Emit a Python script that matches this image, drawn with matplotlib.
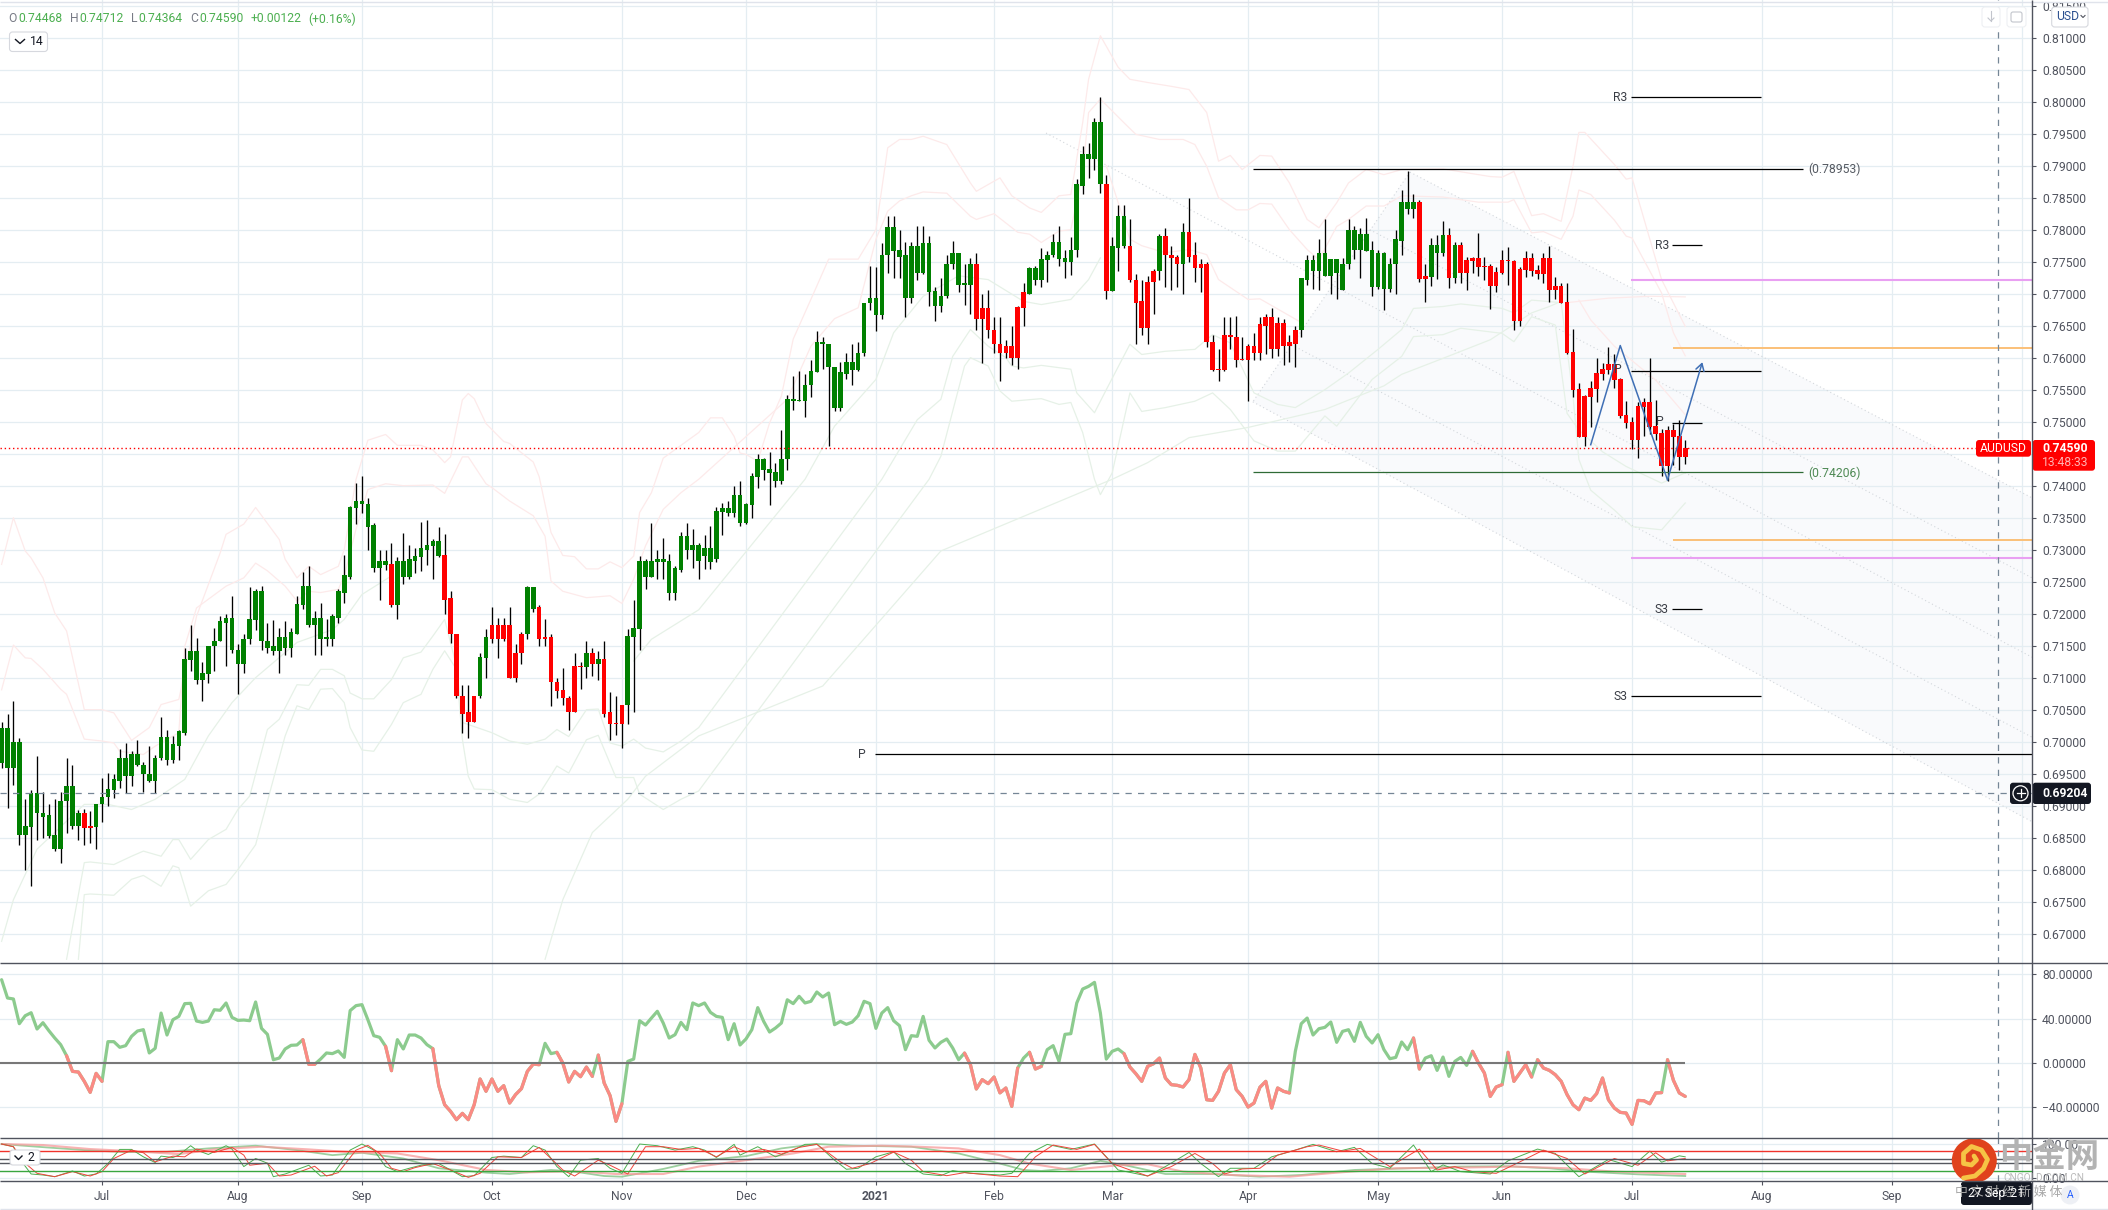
import numpy as np
import matplotlib
matplotlib.use("Agg")
import matplotlib.pyplot as plt
from matplotlib.patches import FancyBboxPatch, Ellipse, Circle

plt.rcParams['font.family'] = ['Roboto', 'Noto Sans CJK SC', 'DejaVu Sans']

W, H = 2108, 1210

# candle values, price x 10000
body_top = [
    7021,7021,6999,6999,6868,6920,6920,6889,6885,6854,
    6908,6930,6930,6888,6888,6868,6903,6914,6926,6941,
    6974,6974,6980,6980,6964,6950,6975,7008,7008,6996,
    7016,7129,7141,7141,7107,7150,7158,7188,7194,7194,
    7144,7161,7191,7236,7236,7158,7149,7163,7163,7171,
    7215,7243,7243,7193,7193,7163,7196,7235,7260,7366,
    7376,7376,7372,7338,7282,7282,7277,7283,7283,7285,
    7290,7302,7307,7313,7313,7291,7224,7169,7072,7046,
    7072,7132,7163,7183,7183,7182,7182,7139,7169,7241,
    7241,7210,7163,7163,7094,7080,7069,7118,7118,7139,
    7139,7129,7129,7046,7029,7058,7165,7177,7283,7283,
    7282,7286,7286,7282,7271,7321,7321,7307,7307,7303,
    7303,7360,7365,7365,7385,7385,7371,7415,7442,7442,
    7426,7421,7442,7536,7536,7533,7558,7579,7625,7625,
    7622,7586,7577,7593,7593,7608,7686,7693,7693,7761,
    7804,7804,7768,7760,7774,7774,7779,7779,7704,7697,
    7747,7764,7764,7716,7747,7747,7677,7677,7644,7622,
    7619,7619,7679,7702,7740,7740,7754,7761,7780,7780,
    7755,7769,7871,7918,7918,7969,7969,7872,7774,7821,
    7821,7775,7722,7688,7719,7736,7790,7790,7761,7757,
    7797,7797,7760,7747,7747,7625,7582,7636,7636,7633,
    7597,7618,7618,7652,7664,7664,7654,7654,7624,7644,
    7724,7752,7752,7763,7763,7754,7754,7747,7800,7800,
    7794,7793,7768,7763,7763,7747,7785,7844,7844,7844,
    7844,7728,7776,7776,7791,7791,7776,7776,7753,7755,
    7755,7744,7744,7734,7753,7753,7751,7739,7755,7755,
    7737,7755,7755,7712,7712,7687,7609,7551,7540,7553,
    7576,7583,7590,7590,7567,7511,7500,7525,7530,7530,
    7494,7483,7487,7487,7478,7459]
body_bot = [
    6967,6959,6959,6854,6854,6866,6888,6883,6852,6833,
    6833,6907,6868,6868,6865,6865,6866,6902,6914,6925,
    6939,6946,6946,6963,6949,6938,6938,6974,6971,6971,
    6994,7014,7127,7097,7097,7105,7149,7157,7186,7143,
    7122,7122,7160,7190,7157,7147,7141,7141,7147,7147,
    7169,7213,7182,7182,7160,7160,7161,7194,7233,7258,
    7365,7371,7336,7272,7272,7276,7213,7213,7257,7257,
    7283,7288,7300,7305,7290,7222,7168,7071,7044,7030,
    7030,7071,7130,7161,7161,7161,7100,7100,7138,7168,
    7208,7160,7160,7093,7079,7068,7047,7047,7116,7116,
    7122,7122,7044,7027,7027,7027,7057,7163,7176,7258,
    7258,7280,7280,7232,7232,7269,7299,7299,7282,7290,
    7280,7285,7359,7357,7357,7342,7342,7370,7414,7425,
    7420,7407,7407,7441,7532,7532,7532,7557,7577,7621,
    7585,7521,7521,7575,7580,7580,7607,7685,7666,7666,
    7760,7766,7758,7694,7694,7733,7733,7702,7680,7680,
    7696,7746,7714,7713,7713,7661,7661,7643,7621,7607,
    7607,7599,7599,7677,7700,7721,7721,7752,7760,7754,
    7749,7749,7768,7869,7911,7911,7871,7704,7704,7772,
    7774,7721,7686,7647,7647,7718,7735,7760,7755,7746,
    7746,7758,7740,7740,7624,7580,7580,7580,7632,7596,
    7596,7596,7608,7608,7650,7613,7613,7618,7618,7622,
    7643,7722,7735,7735,7727,7727,7732,7705,7746,7768,
    7768,7766,7711,7711,7707,7707,7746,7782,7833,7833,
    7723,7723,7726,7764,7764,7725,7725,7733,7733,7751,
    7742,7742,7712,7712,7733,7751,7658,7658,7737,7736,
    7730,7730,7705,7705,7686,7608,7550,7476,7476,7539,
    7551,7575,7581,7565,7509,7498,7472,7472,7523,7492,
    7481,7430,7430,7476,7445,7445]
wick_top = [
    7030,7043,7064,7005,6911,6925,6977,6922,6902,6911,
    6922,6975,6963,6893,6895,6891,6903,6944,6951,6949,
    6988,6998,6985,7002,6969,6994,6979,7038,7018,7009,
    7018,7147,7183,7162,7125,7150,7177,7197,7199,7227,
    7152,7168,7241,7239,7244,7186,7190,7177,7188,7177,
    7228,7265,7275,7204,7216,7191,7199,7238,7291,7369,
    7404,7415,7381,7341,7299,7299,7310,7288,7326,7307,
    7302,7343,7346,7316,7335,7324,7236,7169,7088,7088,
    7072,7138,7176,7210,7193,7194,7210,7152,7171,7244,
    7241,7213,7191,7169,7099,7115,7072,7138,7125,7158,
    7147,7141,7158,7077,7072,7058,7176,7222,7290,7286,
    7341,7300,7319,7294,7274,7327,7341,7332,7311,7323,
    7337,7366,7373,7376,7399,7407,7373,7420,7450,7443,
    7453,7435,7487,7541,7572,7579,7575,7597,7641,7632,
    7622,7586,7593,7608,7622,7625,7686,7743,7741,7779,
    7821,7821,7799,7780,7780,7805,7805,7790,7711,7725,
    7761,7783,7764,7747,7755,7764,7700,7705,7663,7663,
    7627,7649,7680,7716,7741,7743,7772,7766,7793,7805,
    7769,7788,7879,7930,7935,7974,8008,7885,7788,7838,
    7839,7816,7730,7722,7727,7738,7794,7802,7775,7760,
    7811,7850,7780,7754,7750,7636,7614,7663,7663,7665,
    7632,7621,7638,7663,7669,7678,7663,7660,7636,7649,
    7724,7761,7761,7785,7816,7754,7754,7755,7816,7805,
    7802,7819,7783,7768,7765,7755,7800,7862,7891,7856,
    7847,7747,7787,7791,7814,7803,7781,7781,7758,7758,
    7795,7758,7747,7741,7769,7773,7753,7741,7766,7764,
    7745,7764,7775,7726,7716,7716,7645,7561,7542,7564,
    7600,7592,7617,7606,7569,7533,7508,7531,7537,7600,
    7534,7489,7494,7497,7503,7471]
wick_bot = [
    6959,6897,6932,6838,6799,6775,6847,6850,6850,6829,
    6810,6857,6863,6846,6839,6841,6832,6875,6900,6912,
    6928,6920,6931,6962,6922,6937,6920,6971,6964,6967,
    6972,7011,7111,7090,7063,7091,7111,7157,7119,7138,
    7075,7107,7152,7175,7144,7139,7136,7108,7136,7132,
    7168,7208,7179,7135,7136,7149,7149,7186,7216,7254,
    7340,7358,7300,7265,7221,7269,7210,7191,7247,7254,
    7263,7266,7276,7254,7288,7199,7154,7068,7014,7005,
    7030,7069,7099,7154,7130,7157,7099,7094,7122,7160,
    7202,7149,7150,7055,7069,7057,7019,7046,7083,7100,
    7102,7096,7038,7002,7010,6990,7027,7047,7144,7238,
    7258,7254,7254,7222,7221,7265,7285,7271,7254,7270,
    7270,7280,7323,7353,7351,7337,7340,7350,7396,7409,
    7370,7398,7403,7425,7519,7532,7507,7538,7577,7582,
    7462,7516,7516,7567,7557,7579,7602,7675,7641,7661,
    7733,7725,7725,7664,7686,7721,7730,7680,7658,7672,
    7694,7739,7702,7682,7668,7643,7591,7630,7607,7563,
    7600,7588,7582,7650,7700,7713,7711,7718,7758,7744,
    7724,7729,7757,7855,7880,7894,7858,7691,7704,7735,
    7772,7719,7621,7635,7621,7668,7722,7711,7705,7710,
    7699,7749,7718,7703,7616,7579,7563,7579,7614,7585,
    7596,7532,7596,7597,7605,7600,7602,7588,7594,7585,
    7633,7713,7707,7705,7727,7699,7691,7705,7739,7754,
    7724,7766,7696,7707,7674,7703,7700,7760,7825,7819,
    7719,7687,7712,7723,7759,7709,7716,7717,7705,7733,
    7728,7722,7676,7703,7730,7714,7644,7650,7726,7728,
    7723,7716,7687,7692,7686,7606,7539,7476,7462,7492,
    7531,7565,7575,7553,7506,7490,7458,7444,7478,7480,
    7472,7415,7408,7433,7425,7434]
# bars painted red, first and last index of each run
red_runs = [(14,15),(66,66),(75,80),(83,88),(91,98),(100,100),(102,105),(165,173),(187,187),
            (191,195),(197,199),(201,219),(240,241),(245,245),(247,285)]

# oscillator in the middle pane, one value per bar
osc = [
    75.1,58.6,57.7,35.4,42.6,45.3,30.6,36.3,29.1,22.5,16.5,6.5,-7.6,-8.2,-16.6,-26.5,-9.4,-16.6,
    19.2,19.2,14.1,15.6,24,28.8,30,9,13.2,45,25.2,39,42,53.5,53.8,37.8,36.6,37.8,48,47.5,54.1,41.1,
    38.4,38.7,38.1,55,31.2,25.8,2.9,4.4,12.6,15.9,16.2,21,-1.3,-1.3,3.5,9,8.4,10.8,5,47.2,51.7,52.6,
    39,24.6,23.1,15,-7,21,12.6,25.2,25.2,22.5,16.5,12.9,-20.5,-37.7,-43.7,-51.2,-45.5,-51.2,-37.7,
    -14.5,-25.6,-14.5,-25.6,-20.5,-36.2,-28.6,-23.2,-7.6,-1,-1.6,17.7,8.4,9.6,-0.1,-17.2,-7.6,-12.4,
    -3.7,-12.1,7.1,-18.1,-29.5,-52.7,-36.8,1.4,3.5,38.1,34.2,40.5,46.6,36,22.5,25.5,36.6,30,54.1,51.7,
    54.1,45.6,42,41.1,21,35.4,16.2,21.6,30,49.9,37.5,27.9,31.5,36,57,53.5,60.1,54.1,55.6,64,59.5,63.1,
    34.5,37.5,34.8,36.9,42.6,55.6,53.5,31.2,45,49.9,38.1,33.6,12,24.6,24,42,20.4,13.5,18.6,21.6,13.5,
    2.9,8.9,-1.6,-23.5,-15.1,-18.7,-12.7,-27,-22.6,-39.2,-4.6,4.4,9.6,-5.5,-3.1,12,15.6,1.4,25.8,26.4,
    54.1,66.7,69.1,72.7,45,3.5,10.5,12.6,8.4,-3.7,-9.7,-16.6,-3.1,-0.7,4.4,-13.6,-19.6,-20.2,-21.7,
    -15.1,7.7,-4.6,-33.2,-33.8,-25.6,-9.1,-1.6,-24.1,-30.2,-39.8,-36.2,-22,-16.6,-40.7,-22.6,-25.6,
    -27.1,10.5,35.4,40.5,25.2,30.9,32.1,36.9,18.6,28.5,30,19.5,36.6,24,18,25.5,12,3.8,5,18.9,12,22.5,
    -5.5,4.4,6.5,-6.7,5.3,-12.1,1.4,5,-2.2,10.5,-0.1,-9.1,-30.2,-21.7,-19.6,9.6,-16.6,-9.1,-1.6,-12.7,
    2.9,-4.6,-6.7,-10.6,-16.6,-28.6,-37.7,-42.2,-31.7,-33.8,-27.7,-13.6,-33.2,-40.7,-44.6,-45.2,-55.4,
    -33.8,-34.1,-36.8,-27.1,-26.8,2.9,-15.7,-27.1,-30.2]
osc_red_runs = [(11,17),(51,53),(65,66),(73,91),(94,100),(101,105),(163,172),(174,176),(190,218),
                (239,240),(249,254),(255,259),(260,281),(282,285)]

# stochastic pair in the bottom pane
fast_k_x = [0,2,3,5,7,9,12,14,16,18,20,22,24,26,27,29,30,32,33,35,38,39,41,43,45,46,48,52,54,56,59,61,63,65,67,69,71,74,76,78,80,83,85,88,90,92,94,96,98,101,103,105,108,111,114,117,119,121,124,125,128,131,134,136,138,141,143,145,148,151,153,156,159,161,164,169,171,174,177,181,185,187,189,194,197,201,203,206,208,212,215,219,222,226,229,232,235,239,242,244,247,252,255,260,263,267,272,276,279,281,284,285]
fast_k_y = [100,92,57,11,8,3,20,5,11,42,84,84,62,45,64,60,67,95,82,69,95,85,33,57,43,3,11,37,5,8,82,100,82,33,18,28,37,42,23,3,6,60,64,60,95,82,33,3,52,57,28,13,100,95,82,92,82,60,99,67,92,62,82,99,100,52,25,28,62,77,42,11,6,21,13,8,13,72,99,84,100,62,23,5,33,75,42,3,28,28,62,82,99,77,90,42,28,97,18,38,18,11,50,85,72,3,54,33,79,46,65,62]
fast_d_x = [0,2,4,6,9,12,15,17,19,22,24,26,29,31,33,36,39,41,42,45,47,49,53,55,57,60,62,64,66,68,70,73,76,79,81,84,88,91,93,95,97,101,103,106,109,112,115,118,121,124,126,129,132,135,138,142,144,147,151,154,156,160,163,169,172,175,178,182,185,188,191,194,198,202,205,207,210,213,216,221,223,227,230,235,240,243,246,249,253,257,261,265,268,273,277,280,282,285]
fast_d_y = [100,92,43,13,3,18,5,18,57,82,74,47,64,62,85,75,90,67,37,43,5,8,34,5,15,82,96,72,28,18,30,42,23,1,13,62,60,90,57,23,5,52,37,11,92,92,84,87,62,92,77,84,70,90,99,47,28,42,76,52,18,6,15,5,3,62,97,84,99,42,23,5,33,72,42,11,26,28,67,92,97,79,87,33,85,23,33,18,13,47,82,57,11,57,37,74,50,57]
slow_k_x = [0,6,14,21,28,35,43,50,56,61,68,74,82,86,93,97,102,105,112,118,126,132,138,144,154,162,169,173,176,181,186,191,197,205,213,220,229,238,247,255,262,268,277,285]
slow_k_y = [100,92,82,76,77,87,95,82,67,74,57,28,15,11,23,18,5,3,26,50,64,87,100,95,92,72,42,23,20,28,50,34,11,11,3,8,23,28,33,34,28,18,10,5]
slow_d_x = [0,7,15,22,30,36,44,52,59,67,74,82,89,97,104,112,118,126,134,140,149,155,162,169,174,181,189,194,200,208,218,226,236,247,256,265,273,285]
slow_d_y = [100,97,85,79,70,84,92,84,76,72,52,23,16,19,11,11,33,52,72,92,95,92,87,67,42,23,37,40,18,8,3,15,28,30,33,28,18,11]

# pale bands on the price pane
red_a_x = [0,2,4,5,7,9,11,14,17,19,22,25,27,30,33,37,38,41,43,47,48,50,52,54,57,58,60,62,65,67,71,73,75,76,78,79,80,82,85,86,90,91,93,95,97,99,101,103,105,107,108,110,112,115,118,120,122,124,125,126,128,130,132,134,138,140,145,148,150,152,154,156,160,164,165,169,171,174,176,179,181,183,184,186,189,191,194,198,201,204,206,208,210,213,215,218,221,223,226,228,231,234,237,244,252,254,256,259,261,264,266,267,268,271,273,275,276,277,281,285]
red_a_y = [7277,7350,7298,7287,7256,7201,7173,7050,7050,7045,7002,7022,7058,7066,7196,7295,7324,7340,7366,7316,7285,7256,7274,7261,7274,7300,7410,7471,7480,7463,7463,7456,7436,7445,7534,7544,7536,7497,7469,7466,7437,7414,7327,7291,7289,7270,7270,7281,7272,7290,7358,7389,7443,7463,7483,7506,7506,7477,7451,7449,7438,7498,7540,7629,7712,7754,7754,7800,7928,7941,7941,7946,7933,7873,7860,7881,7853,7834,7827,7853,7855,7967,8035,8103,8054,8035,8030,8024,8019,7983,7907,7916,7894,7916,7915,7873,7816,7803,7842,7873,7894,7886,7894,7895,7883,7882,7891,7822,7825,7813,7899,7952,7952,7922,7902,7879,7881,7849,7722,7649]
red_b_x = [0,2,4,5,7,10,11,14,17,19,20,24,26,30,31,33,38,41,43,45,48,50,52,54,57,58,60,62,65,68,73,75,78,79,82,83,86,90,92,93,95,99,103,105,107,109,112,115,118,133,137,141,145,148,150,152,154,156,160,164,165,168,172,174,176,179,181,183,184,186,190,192,196,200,202,204,206,209,211,213,215,218,221,223,226,228,231,234,237,244,250,255,256,259,261,264,266,267,269,273,275,276,281,283,285]
red_b_y = [7081,7151,7131,7130,7113,7082,7074,7004,7001,6998,6985,6980,6993,7014,7149,7209,7243,7256,7279,7267,7243,7220,7235,7233,7238,7259,7332,7394,7403,7400,7401,7388,7445,7445,7403,7397,7376,7353,7321,7251,7235,7225,7228,7216,7254,7306,7363,7389,7410,7535,7618,7661,7678,7785,7829,7845,7853,7859,7857,7821,7816,7825,7796,7793,7780,7798,7800,7889,7983,8004,7967,7949,7941,7941,7933,7899,7850,7831,7831,7841,7840,7800,7769,7753,7805,7816,7837,7837,7853,7851,7843,7843,7847,7795,7797,7785,7821,7862,7855,7815,7790,7787,7701,7639,7603]
red_c_x = [187,191,193,197,201,204,206,211,213,220]
red_c_y = [7900,7785,7775,7764,7769,7761,7722,7691,7692,7655]
red_d_x = [265,272,279,285]
red_d_y = [7686,7693,7696,7695]
red_e_x = [267,269,273,280,285]
red_e_y = [7690,7659,7618,7565,7511]
green_c_x = [11,14,15,19,22,24,27,29,30,32,35,38,40,42,45,47,50,52,54,56,58,59,61,63,66,68,71,73,75,77,78,83,86,89,92,94,96,99,101,103,105,107,109,112,115,118,149,155,159,161,164,167,170,171,173,176,181,182,185,187,191,193,197,202,205,208,212,216,219,224,228,233,237,239,244,247,254,256,259,264,266,267,269,273,276,281,283,285]
green_c_y = [6660,6811,6812,6808,6821,6829,6821,6847,6847,6816,6847,6863,6894,6915,7019,7035,7089,7088,7113,7113,7103,7076,7067,7067,7097,7131,7140,7165,7191,7118,7030,7014,7001,6996,7004,7019,7008,7050,7051,6998,6993,7004,6990,6984,7001,7022,7410,7503,7535,7602,7644,7618,7600,7587,7584,7588,7582,7545,7514,7550,7621,7605,7610,7613,7636,7623,7545,7527,7522,7550,7576,7613,7644,7677,7680,7684,7677,7670,7690,7686,7540,7441,7393,7362,7336,7331,7352,7373]
green_d_x = [13,14,15,19,22,24,27,29,30,32,35,38,40,43,46,48,50,52,54,56,58,59,61,63,66,68,71,73,75,77,78,79,80,83,86,89,91,94,96,99,101,104,107,108,112,115,118,157,159,163,164,167,169,171,176,179,181,183,185,186,188,191,193,197,202,205,208,212,216,219,224,226,232,237,239,244,247,254,256,259,263,265,267,271,275,281,285]
green_d_y = [6660,6761,6762,6760,6785,6791,6774,6806,6803,6743,6767,6777,6800,6839,6941,7009,7056,7050,7082,7083,7061,7022,6987,6985,7027,7061,7074,7113,7142,7113,7004,6946,6926,6925,6910,6905,6918,6962,6951,7003,7010,6944,6944,6918,6894,6910,6923,7410,7446,7587,7600,7587,7548,7532,7536,7527,7530,7483,7410,7386,7420,7545,7516,7522,7532,7545,7519,7470,7454,7454,7509,7493,7566,7602,7633,7636,7646,7638,7625,7664,7651,7513,7487,7453,7430,7404,7420]
green_e_x = [0,2,6,14,18,22,26,31,35,39,43,50,56,58,61,66]
green_e_y = [6688,6753,6832,6902,6902,6894,6910,6941,7009,7061,7100,7155,7175,7191,7230,7259]
green_f_x = [107,110,118,136,141,148,151,156,162,167,173,176,181,184,186]
green_f_y = [7126,7160,7206,7410,7493,7566,7639,7696,7728,7722,7688,7683,7691,7722,7756]
long_ma_x = [92,95,100,106,109,118,139,159,188,194,201,211,224,234,237,244,252,255,259,262,264]
long_ma_y = [6660,6753,6858,6910,6946,7009,7087,7298,7410,7436,7475,7491,7519,7556,7574,7599,7628,7646,7670,7680,7688]

# drawn levels
level_r3_far = 0.8007
level_r3_near = 0.7776
level_p_far = 0.7579
level_p_near = 0.7498
level_s3_near = 0.7207
level_s3_far = 0.7071
level_p_long = 0.6980
level_top = 0.78953
level_bottom = 0.74206
pink_levels = [0.7722, 0.7287]
orange_levels = [0.7615, 0.7315]
last_price = 0.7459
cross_price = 0.69204
cross_bar = 337.9

# trend fork lines: first bar, first price, last bar, last price
fork_a = [238.4, 0.7890, 343.7, 0.7381]
fork_b = [231.6, 0.7800, 343.7, 0.7256]
fork_c = [176.8, 0.7951, 343.7, 0.7132]
fork_d = [218.4, 0.7620, 343.7, 0.7007]
fork_e = [211.8, 0.7531, 343.7, 0.6875]

zigzag_x = [269.0, 274.0, 282.0, 287.9]
zigzag_y = [0.7464, 0.7619, 0.7409, 0.7593]

month_bars = [17, 40, 61, 83, 105, 126, 148, 168, 188, 211, 233, 254, 276, 298, 320, 342]
month_names = ['Jul', 'Aug', 'Sep', 'Oct', 'Nov', 'Dec', '2021', 'Feb', 'Mar', 'Apr', 'May', 'Jun', 'Jul', 'Aug', 'Sep', 'Oct']
price_ticks = [0.67 + 0.005 * i for i in range(30)]
osc_ticks = [80, 40, 0, -40]
stoch_ticks = [100, 0]
stoch_levels = [80, 55, 45, 20]

GRID = '#e4edf2'
AXIS = '#50535e'
TICK = '#50535e'
FS = 8.7
LEFT_BAR = -0.27
RIGHT_BAR = 343.7


def make_axes(top, bottom, ylim):
    ax = fig.add_axes([0, 1 - bottom / H, 2032 / W, (bottom - top) / H])
    ax.set_xlim(LEFT_BAR, RIGHT_BAR)
    ax.set_ylim(*ylim)
    for s in ['top', 'left', 'bottom', 'right']:
        ax.spines[s].set_visible(False)
    ax.yaxis.tick_right()
    ax.set_xticks(month_bars)
    ax.tick_params(axis='y', length=3, width=0.8, color=AXIS, labelcolor=TICK, labelsize=FS, pad=4.3)
    ax.tick_params(axis='x', length=0, labelbottom=False)
    ax.grid(True, color=GRID, lw=0.9)
    ax.set_axisbelow(True)
    ax.axvline(cross_bar, color='#758696', lw=0.9, ls=(0, (5, 5)), zorder=6)
    return ax


fig = plt.figure(figsize=(W / 100, H / 100), dpi=100, facecolor='white')
bars = np.arange(len(body_top))

# --- price pane
ax = make_axes(0, 963.3, (0.66537, 0.81589))
ax.set_yticks(price_ticks)
ax.set_yticklabels([f'{p:.5f}' for p in price_ticks])

ax.fill([fork_a[0], fork_a[2], fork_e[2], fork_e[0]], [fork_a[1], fork_a[3], fork_e[3], fork_e[1]],
        color='#f9fafc', lw=0, zorder=0.4)
for f in [fork_a, fork_b, fork_c, fork_d, fork_e]:
    ax.plot([f[0], f[2]], [f[1], f[3]], color='#d3d7dc', lw=0.8, ls=(0, (1, 2.5)), zorder=1)
ax.plot([fork_a[0], fork_e[0]], [fork_a[1], fork_e[1]], color='#d3d7dc', lw=0.8, ls=(0, (1, 2.5)), zorder=1)

for bx, by in [(red_a_x, red_a_y), (red_b_x, red_b_y), (red_c_x, red_c_y), (red_d_x, red_d_y), (red_e_x, red_e_y)]:
    ax.plot(bx, np.array(by) / 10000, color='#fdeaea', lw=0.9, zorder=1.5)
for bx, by in [(green_c_x, green_c_y), (green_d_x, green_d_y), (green_e_x, green_e_y), (green_f_x, green_f_y), (long_ma_x, long_ma_y)]:
    ax.plot(bx, np.array(by) / 10000, color='#e6f1e7', lw=0.9, zorder=1.5)

colors = np.array(['#008000'] * len(bars))
for a, b in red_runs:
    colors[a:b + 1] = '#ff0000'
top = np.array(body_top) / 10000
bot = np.array(body_bot) / 10000
ax.vlines(bars, np.array(wick_bot) / 10000, np.array(wick_top) / 10000, color='black', lw=0.95, zorder=3)
ax.bar(bars, np.maximum(top - bot, 0.00012), bottom=bot, width=0.78, color=colors, lw=0, zorder=4)

level_lines = [
    (level_r3_far, 275.8, 297.9, 'black'), (level_top, 211.8, 304.9, 'black'),
    (level_r3_near, 282.8, 287.9, 'black'), (level_p_far, 275.8, 297.9, 'black'),
    (level_p_near, 282.8, 287.9, 'black'), (level_bottom, 211.8, 304.9, '#2f6b36'),
    (level_s3_near, 282.8, 287.9, 'black'), (level_s3_far, 275.8, 297.9, 'black'),
    (level_p_long, 147.8, RIGHT_BAR, 'black')]
for price, x0, x1, c in level_lines:
    ax.hlines(price, x0, x1, color=c, lw=0.9, zorder=5)
for price in pink_levels:
    ax.hlines(price, 275.9, RIGHT_BAR, color='#e9a0f2', lw=1.5, zorder=5)
for price in orange_levels:
    ax.hlines(price, 283, RIGHT_BAR, color='#fbc078', lw=1.4, zorder=5)

for txt, price, x0, dx in [('R3', level_r3_far, 275.8, -2.5), ('R3', level_r3_near, 282.8, -2.5), ('P', level_p_far, 275.8, -7),
                           ('P', level_p_near, 282.8, -6), ('S3', level_s3_near, 282.8, -2.5), ('S3', level_s3_far, 275.8, -2.5),
                           ('P', level_p_long, 147.8, -6.5)]:
    ax.annotate(txt, (x0, price), xytext=(dx, 0 if txt != 'P' or price == level_p_long else 1), textcoords='offset points',
                ha='right', va='center', fontsize=FS, color='#3a3d45', zorder=7)
ax.annotate('(0.78953)', (304.9, level_top), xytext=(4, -0.7), textcoords='offset points', va='center', fontsize=FS, color='#555a62')
ax.annotate('(0.74206)', (304.9, level_bottom), xytext=(4, -0.7), textcoords='offset points', va='center', fontsize=FS, color='#4f8a55')

ax.axhline(last_price, color='#ff0000', lw=1.0, ls=(0, (1, 2)), zorder=5)
ax.axhline(cross_price, color='#758696', lw=0.9, ls=(0, (5, 5)), zorder=6)

ax.plot(zigzag_x[:3], zigzag_y[:3], color='#3f6fb5', lw=1.1, zorder=6)
ax.annotate('', xy=(zigzag_x[3], zigzag_y[3]), xytext=(zigzag_x[2], zigzag_y[2]),
            arrowprops=dict(arrowstyle='->,head_length=0.5,head_width=0.3', color='#3f6fb5', lw=1.1, shrinkA=0, shrinkB=0), zorder=6)

# --- oscillator pane
ax2 = make_axes(963.3, 1138.3, (-68.0, 89.9))
ax2.set_yticks(osc_ticks)
ax2.set_yticklabels(['80.00000', '40.00000', '0.00000', '\u221240.00000'])
ax2.plot(bars, osc, color='#8ccb8e', lw=2.3, zorder=3, solid_capstyle='round')
for a, b in osc_red_runs:
    ax2.plot(bars[a:b + 1], osc[a:b + 1], color='#fb8a84', lw=2.3, zorder=3.5, solid_capstyle='round')
ax2.hlines(0, LEFT_BAR, bars[-1], color='#787878', lw=1.5, zorder=4)

# --- stochastic pane
ax3 = make_axes(1138.3, 1181.3, (-10.7, 117))
ax3.set_yticks(stoch_ticks)
ax3.set_yticklabels(['100.00', '0.00'])
ax3.set_xticklabels(month_names)
ax3.tick_params(axis='x', length=3, width=0.8, color=AXIS, labelcolor=TICK, labelsize=FS, pad=3.5, labelbottom=True)
ax3.xaxis.set_ticks_position('bottom')
for lab in ax3.get_xticklabels():
    if lab.get_text() == '2021':
        lab.set_fontweight('bold')
ax3.plot(slow_k_x, slow_k_y, color='#7cc07f', lw=1.3, alpha=0.75, zorder=3)
ax3.plot(slow_d_x, slow_d_y, color='#f79a9a', lw=1.5, alpha=0.75, zorder=3.2)
ax3.plot(fast_k_x, fast_k_y, color='#4caf50', lw=0.7, zorder=3.4)
ax3.plot(fast_d_x, fast_d_y, color='#f0443c', lw=0.7, zorder=3.6)
for level, c in zip(stoch_levels, ['#f0342c', '#55585f', '#55585f', '#3aa63f']):
    ax3.axhline(level, color=c, lw=1.0, zorder=4)

# --- overlay for separators, price labels and buttons (pixel coordinates)
ov = fig.add_axes([0, 0, 1, 1], zorder=20)
ov.set_xlim(0, W)
ov.set_ylim(H, 0)
ov.axis('off')
ov.patch.set_alpha(0)

ov.hlines([963.3, 1138.3, 1181.3], 0, W, color=AXIS, lw=1.0)
ov.hlines([1.5, 1208.5], 0, W, color='#e0e3eb', lw=1.0)
ov.vlines(2032.3, 0, H, color=AXIS, lw=1.0)


def box(x0, y0, x1, y1, fc, ec='none', r=3, lw=0.8):
    ov.add_patch(FancyBboxPatch((x0, y0), x1 - x0, y1 - y0, boxstyle=f'round,pad=0,rounding_size={r}',
                                fc=fc, ec=ec, lw=lw))


# header
for x, txt, c in [(8, 'O', '#787b86'), (18, '0.74468', '#4caf50'), (70, 'H', '#787b86'), (79, '0.74712', '#4caf50'),
                  (131, 'L', '#787b86'), (138, '0.74364', '#4caf50'), (190, 'C', '#787b86'), (199, '0.74590', '#4caf50'),
                  (251, '+0.00122', '#4caf50'), (308, '(+0.16%)', '#4caf50')]:
    ov.text(x, 19, txt, color=c, fontsize=FS, va='center')
box(9.5, 32, 47.5, 51.5, 'white', '#d6d8de')
ov.plot([15.5, 20, 24.5], [39.5, 43.5, 39.5], color='#131722', lw=1.0)
ov.text(30, 41.5, '14', color='#131722', fontsize=FS, va='center')
box(10, 1150, 40, 1165, 'white', '#d6d8de')
ov.plot([15, 18.5, 22], [1156, 1159.5, 1156], color='#131722', lw=1.0)
ov.text(27, 1157.5, '2', color='#131722', fontsize=FS, va='center')

# top right buttons
box(2051.7, 7, 2088, 27, 'white', '#d6d8de')
ov.text(2056, 17, 'USD', color='#2a4f8f', fontsize=FS, va='center')
ov.plot([2081, 2083, 2085], [15.5, 17.5, 15.5], color='#50535e', lw=0.8)
box(1982, 7, 2000, 27, 'white', '#eef0f3')
ov.plot([1991, 1991], [11, 21], color='#c2c5cc', lw=0.8)
ov.plot([1988, 1991, 1994], [18, 21, 18], color='#c2c5cc', lw=0.8)
box(2007, 7, 2026, 27, 'white', '#eef0f3')
box(2011, 12, 2022, 22, 'white', '#c2c5cc', r=2)

# last price labels
box(1976, 440, 2031, 456.7, '#ff0000')
ov.text(2003.5, 448.5, 'AUDUSD', color='white', fontsize=FS, ha='center', va='center')
box(2032.5, 440, 2095, 470.7, '#ff0000')
ov.text(2042, 448.5, '0.74590', color='white', fontsize=FS, fontweight='bold', va='center')
ov.text(2042, 462.5, '13:48:33', color='#ffb3b3', fontsize=FS, va='center')

# crosshair labels
box(2010, 782.7, 2031, 804, '#131722')
ov.add_patch(Circle((2020.5, 793.3), 7.5, fc='none', ec='white', lw=0.9))
ov.plot([2016.5, 2024.5], [793.3, 793.3], color='white', lw=0.9)
ov.plot([2020.5, 2020.5], [789.3, 797.3], color='white', lw=0.9)
box(2032.5, 782.7, 2091, 804, '#131722')
ov.text(2042, 793.3, '0.69204', color='white', fontsize=FS, fontweight='bold', va='center')

# watermark
ov.text(1999, 1157, '中金网', color='#b3b3b3', fontsize=24, fontweight='bold', va='center',
        family=['Noto Sans CJK SC', 'DejaVu Sans'])
ov.text(2003, 1178, 'CNGOLD.COM.CN', color='#b9b9b9', fontsize=7.2, va='center')
ov.text(1955, 1192, '中 文 财 经 新 媒 体', color='#a8a8a8', fontsize=9.3, va='center',
        family=['Noto Sans CJK SC', 'DejaVu Sans'])
ov.add_patch(Ellipse((1974.3, 1160.5), 45, 44.5, fc='#e0421c', ec='none'))
swirl_x = [1963.5, 1975, 1983.5, 1987.5, 1981.5, 1971.5, 1963.5, 1963.5, 1971.5, 1976.5, 1974]
swirl_y = [1178, 1176, 1168.5, 1159.5, 1150, 1146.5, 1153.5, 1163.5, 1165, 1160, 1156]
ov.plot(swirl_x, swirl_y, color='#f6c445', lw=3.4, solid_capstyle='round', solid_joinstyle='round')

# crosshair date and auto button
box(1961, 1181.5, 2032, 1205, '#131722')
ov.text(1996.5, 1193, "27 Sep '21", color='white', fontsize=FS, ha='center', va='center')
ov.add_patch(Circle((2070, 1195), 9.5, fc='#eef0f5', ec='none'))
ov.text(2070, 1195.5, 'A', color='#2962ff', fontsize=7.5, ha='center', va='center')

fig.savefig('out.png', dpi=100, facecolor='white')
